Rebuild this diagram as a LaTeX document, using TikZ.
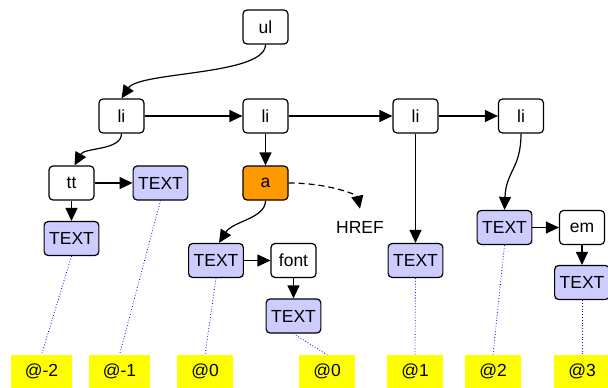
\documentclass[tikz,border=0pt]{standalone}
\usepackage{fontspec}
\setmainfont{Liberation Sans}
\usetikzlibrary{arrows.meta}
\newcommand{\edgeWidth}[0]{1.2pt}
\newcommand{\boxRound}[0]{4pt}
\newcommand{\labelFont}[0]{\fontsize{17.5}{20}\selectfont}
\definecolor{textblue}{HTML}{CCCCFF}
\definecolor{anchororange}{HTML}{FF9900}
\definecolor{slotyellow}{HTML}{FFFF00}

\begin{document}
\begin{tikzpicture}[x=1pt, y=-1pt, >={Triangle[length=13pt,width=12pt]}]
  \tikzset{
    elem/.style={draw, line width=\edgeWidth, rounded corners=\boxRound, fill=white,
      minimum width=45pt, minimum height=34pt, inner xsep=5pt, font=\labelFont},
    textbox/.style={elem, fill=textblue},
    slot/.style={fill=slotyellow, minimum height=33pt, inner xsep=14pt, font=\labelFont},
    link/.style={->, line width=\edgeWidth},
    offset/.style={blue, dotted, line width=0.8pt}
  }
  \useasboundingbox (0,0) rectangle (608,388);

  \node[elem] (ul) at (265.5,27) {ul};
  \node[elem] (li-1) at (121.5,116) {li};
  \node[elem] (li-2) at (265.5,116) {li};
  \node[elem] (li-3) at (415.5,116) {li};
  \node[elem] (li-4) at (521,116) {li};
  \node[elem] (tt) at (71.5,183) {tt};
  \node[textbox] (text-tt-2) at (160.5,183) {TEXT};
  \node[textbox] (text-tt-1) at (71.5,238.5) {TEXT};
  \node[elem, fill=anchororange] (a) at (265.5,183) {a};
  \node[font=\labelFont, inner ysep=12pt] (href) at (360,227) {HREF};
  \node[textbox] (text-a) at (216,260.5) {TEXT};
  \node[elem] (font) at (293.5,260.5) {font};
  \node[textbox] (text-font) at (293.5,316) {TEXT};
  \node[textbox] (text-3) at (415.5,260.5) {TEXT};
  \node[textbox] (text-4) at (504.5,227.5) {TEXT};
  \node[elem] (em) at (582,227.5) {em};
  \node[textbox] (text-em) at (582,282.5) {TEXT};

  \node[slot] (slot-1) at (41.5,371.5) {@-2};
  \node[slot] (slot-2) at (119.5,371.5) {@-1};
  \node[slot] (slot-3) at (205,371.5) {@0};
  \node[slot] (slot-4) at (327,371.5) {@0};
  \node[slot] (slot-5) at (415,371.5) {@1};
  \node[slot] (slot-6) at (493,371.5) {@2};
  \node[slot] (slot-7) at (582,371.5) {@3};

  \draw[link] (ul.south) .. controls +(0,31) and +(18,-27) .. (li-1.north);
  \draw[link] (li-1) -- (li-2);
  \draw[link] (li-2) -- (li-3);
  \draw[link] (li-3) -- (li-4);
  \draw[link] (li-1.south) .. controls +(0,17) and +(10,-18) .. ([xshift=3pt]tt.north);
  \draw[link] (tt) -- (text-tt-2);
  \draw[link] (tt) -- (text-tt-1);
  \draw[link] (li-2) -- (a);
  \draw[link, dash pattern=on 6pt off 4pt] (a.east) .. controls +(40,0) and +(-3,-14) .. (href.north);
  \draw[link] (a.south) .. controls +(0,18) and +(14,-22) .. ([xshift=3pt]text-a.north);
  \draw[link] (text-a) -- (font);
  \draw[link] (font) -- (text-font);
  \draw[link] (li-3) -- (text-3);
  \draw[link] (li-4.south) .. controls +(0,35) and +(1.5,-39) .. (text-4.north);
  \draw[link] (text-4) -- (em);
  \draw[link] (em) -- (text-em);

  \draw[offset] (text-tt-1.south) -- (slot-1.north);
  \draw[offset] (text-tt-2.south) -- (slot-2.north);
  \draw[offset] (text-a.south) -- (slot-3.north);
  \draw[offset] (text-font.south) -- (slot-4.north);
  \draw[offset] (text-3.south) -- (slot-5.north);
  \draw[offset] (text-4.south) -- (slot-6.north);
  \draw[offset] (text-em.south) -- (slot-7.north);
\end{tikzpicture}
\end{document}
